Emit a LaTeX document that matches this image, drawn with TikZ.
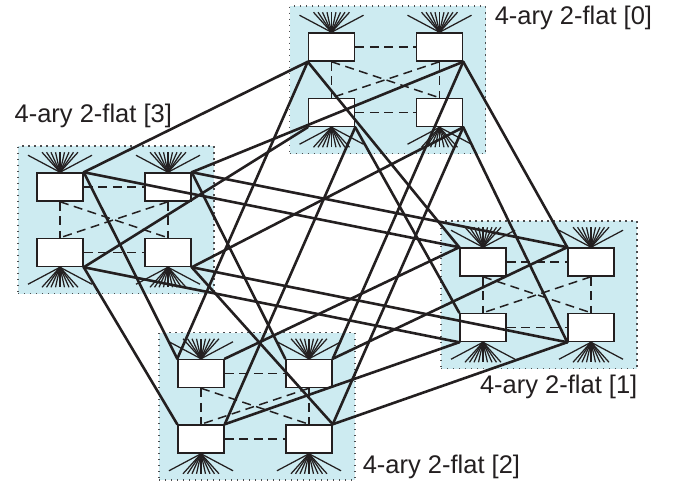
\documentclass[tikz,border=0pt]{standalone}
\usepackage{fontspec}
\setmainfont{Liberation Sans}
\usetikzlibrary{calc}
\definecolor{tinta}{HTML}{231F20}
\definecolor{punteo}{HTML}{4D4D4F}
\definecolor{celeste}{HTML}{CDEBF1}
\tikzset{
  grupo/.style={rectangle, draw=punteo, fill=celeste, line width=1.1pt,
                dash pattern=on 1.1pt off 4.9pt, minimum width=196pt, minimum height=147.5pt},
  router/.style={rectangle, draw=tinta, fill=white, line width=1.5pt, inner sep=0pt,
                 minimum width=46pt, minimum height=28pt},
  enlace/.style={line width=1.5pt, color=tinta, dash pattern=on 9pt off 5.5pt},
  global/.style={line width=2.6pt, color=tinta, line cap=round},
  rayo/.style={line width=1.25pt, color=tinta},
  rotulo/.style={font=\fontsize{25.5}{30}\selectfont, text=tinta, inner sep=0pt}
}

\begin{document}
\begin{tikzpicture}[x=1pt, y=-1pt]
  \useasboundingbox (0,0) rectangle (673,485);
  % four 4-ary 2-flats, routers a b / c d
  \foreach \g/\x/\y in {0/387.5/79.75, 1/539/294.75, 2/257/406.25, 3/116/219.75} {
    \node (g\g) [grupo] at (\x,\y) {};
    \node (a\g) [router] at ($(g\g)+(-56,-32.75)$) {};
    \node (b\g) [router] at ($(g\g)+(52,-32.75)$) {};
    \node (c\g) [router] at ($(g\g)+(-56,32.75)$) {};
    \node (d\g) [router] at ($(g\g)+(52,32.75)$) {};
    \draw [enlace] (a\g.east) -- (b\g.west);
    \draw [enlace] (c\g.east) -- (d\g.west);
    \draw [enlace] (a\g.south) -- (c\g.north);
    \draw [enlace] (b\g.south) -- (d\g.north);
    \draw [enlace] (a\g.south) -- (d\g.north);
    \draw [enlace] (b\g.south) -- (c\g.north);
    % terminals
    \foreach \r in {a,b} {
      \foreach \dx in {-18,-13.5,...,18} \draw [rayo] (\r\g.north) -- ++(\dx,-20);
      \draw [rayo] (\r\g.north) -- ++(-32,-17);
      \draw [rayo] (\r\g.north) -- ++(32,-17);
    }
    \foreach \r in {c,d} {
      \foreach \dx in {-18,-13.5,...,18} \draw [rayo] (\r\g.south) -- ++(\dx,20);
      \draw [rayo] (\r\g.south) -- ++(-32,17);
      \draw [rayo] (\r\g.south) -- ++(32,17);
    }
  }
  \node (t0) [rotulo, anchor=west] at ($(g0.north east)+(8.5,12)$) {4-ary 2-flat [0]};
  \node (t1) [rotulo, anchor=east] at ($(g1.south east)+(0,17.5)$) {4-ary 2-flat [1]};
  \node (t2) [rotulo, anchor=west] at ($(g2.south east)+(7,-14)$) {4-ary 2-flat [2]};
  \node (t3) [rotulo, anchor=west] at ($(g3.north west)+(-3,-30)$) {4-ary 2-flat [3]};
  % links between matching routers of different flats
  \foreach \p/\q in {a3.north east/a0.south west, b3.north east/b0.south east,
                     c3.south east/c0.south west, d3.south east/d0.south east,
                     a0.south west/a1.north west, b0.south east/b1.north west,
                     c0.south east/c1.north west, d0.south east/d1.south west,
                     a0.south west/a2.north west, b0.south east/b2.north east,
                     c0.south east/c2.north east, d0.south east/d2.north east,
                     a3.north east/a1.north west, b3.north east/b1.north west,
                     c3.south east/c1.south west, d3.south east/d1.south west,
                     a3.north east/a2.north west, b3.north east/b2.north west,
                     c3.south east/c2.north west, d3.south east/d2.north east,
                     a1.north west/a2.north east, b1.north west/b2.north east,
                     c1.south west/c2.north east, d1.south west/d2.north east}
    \draw [global] (\p) -- (\q);
\end{tikzpicture}
\end{document}
